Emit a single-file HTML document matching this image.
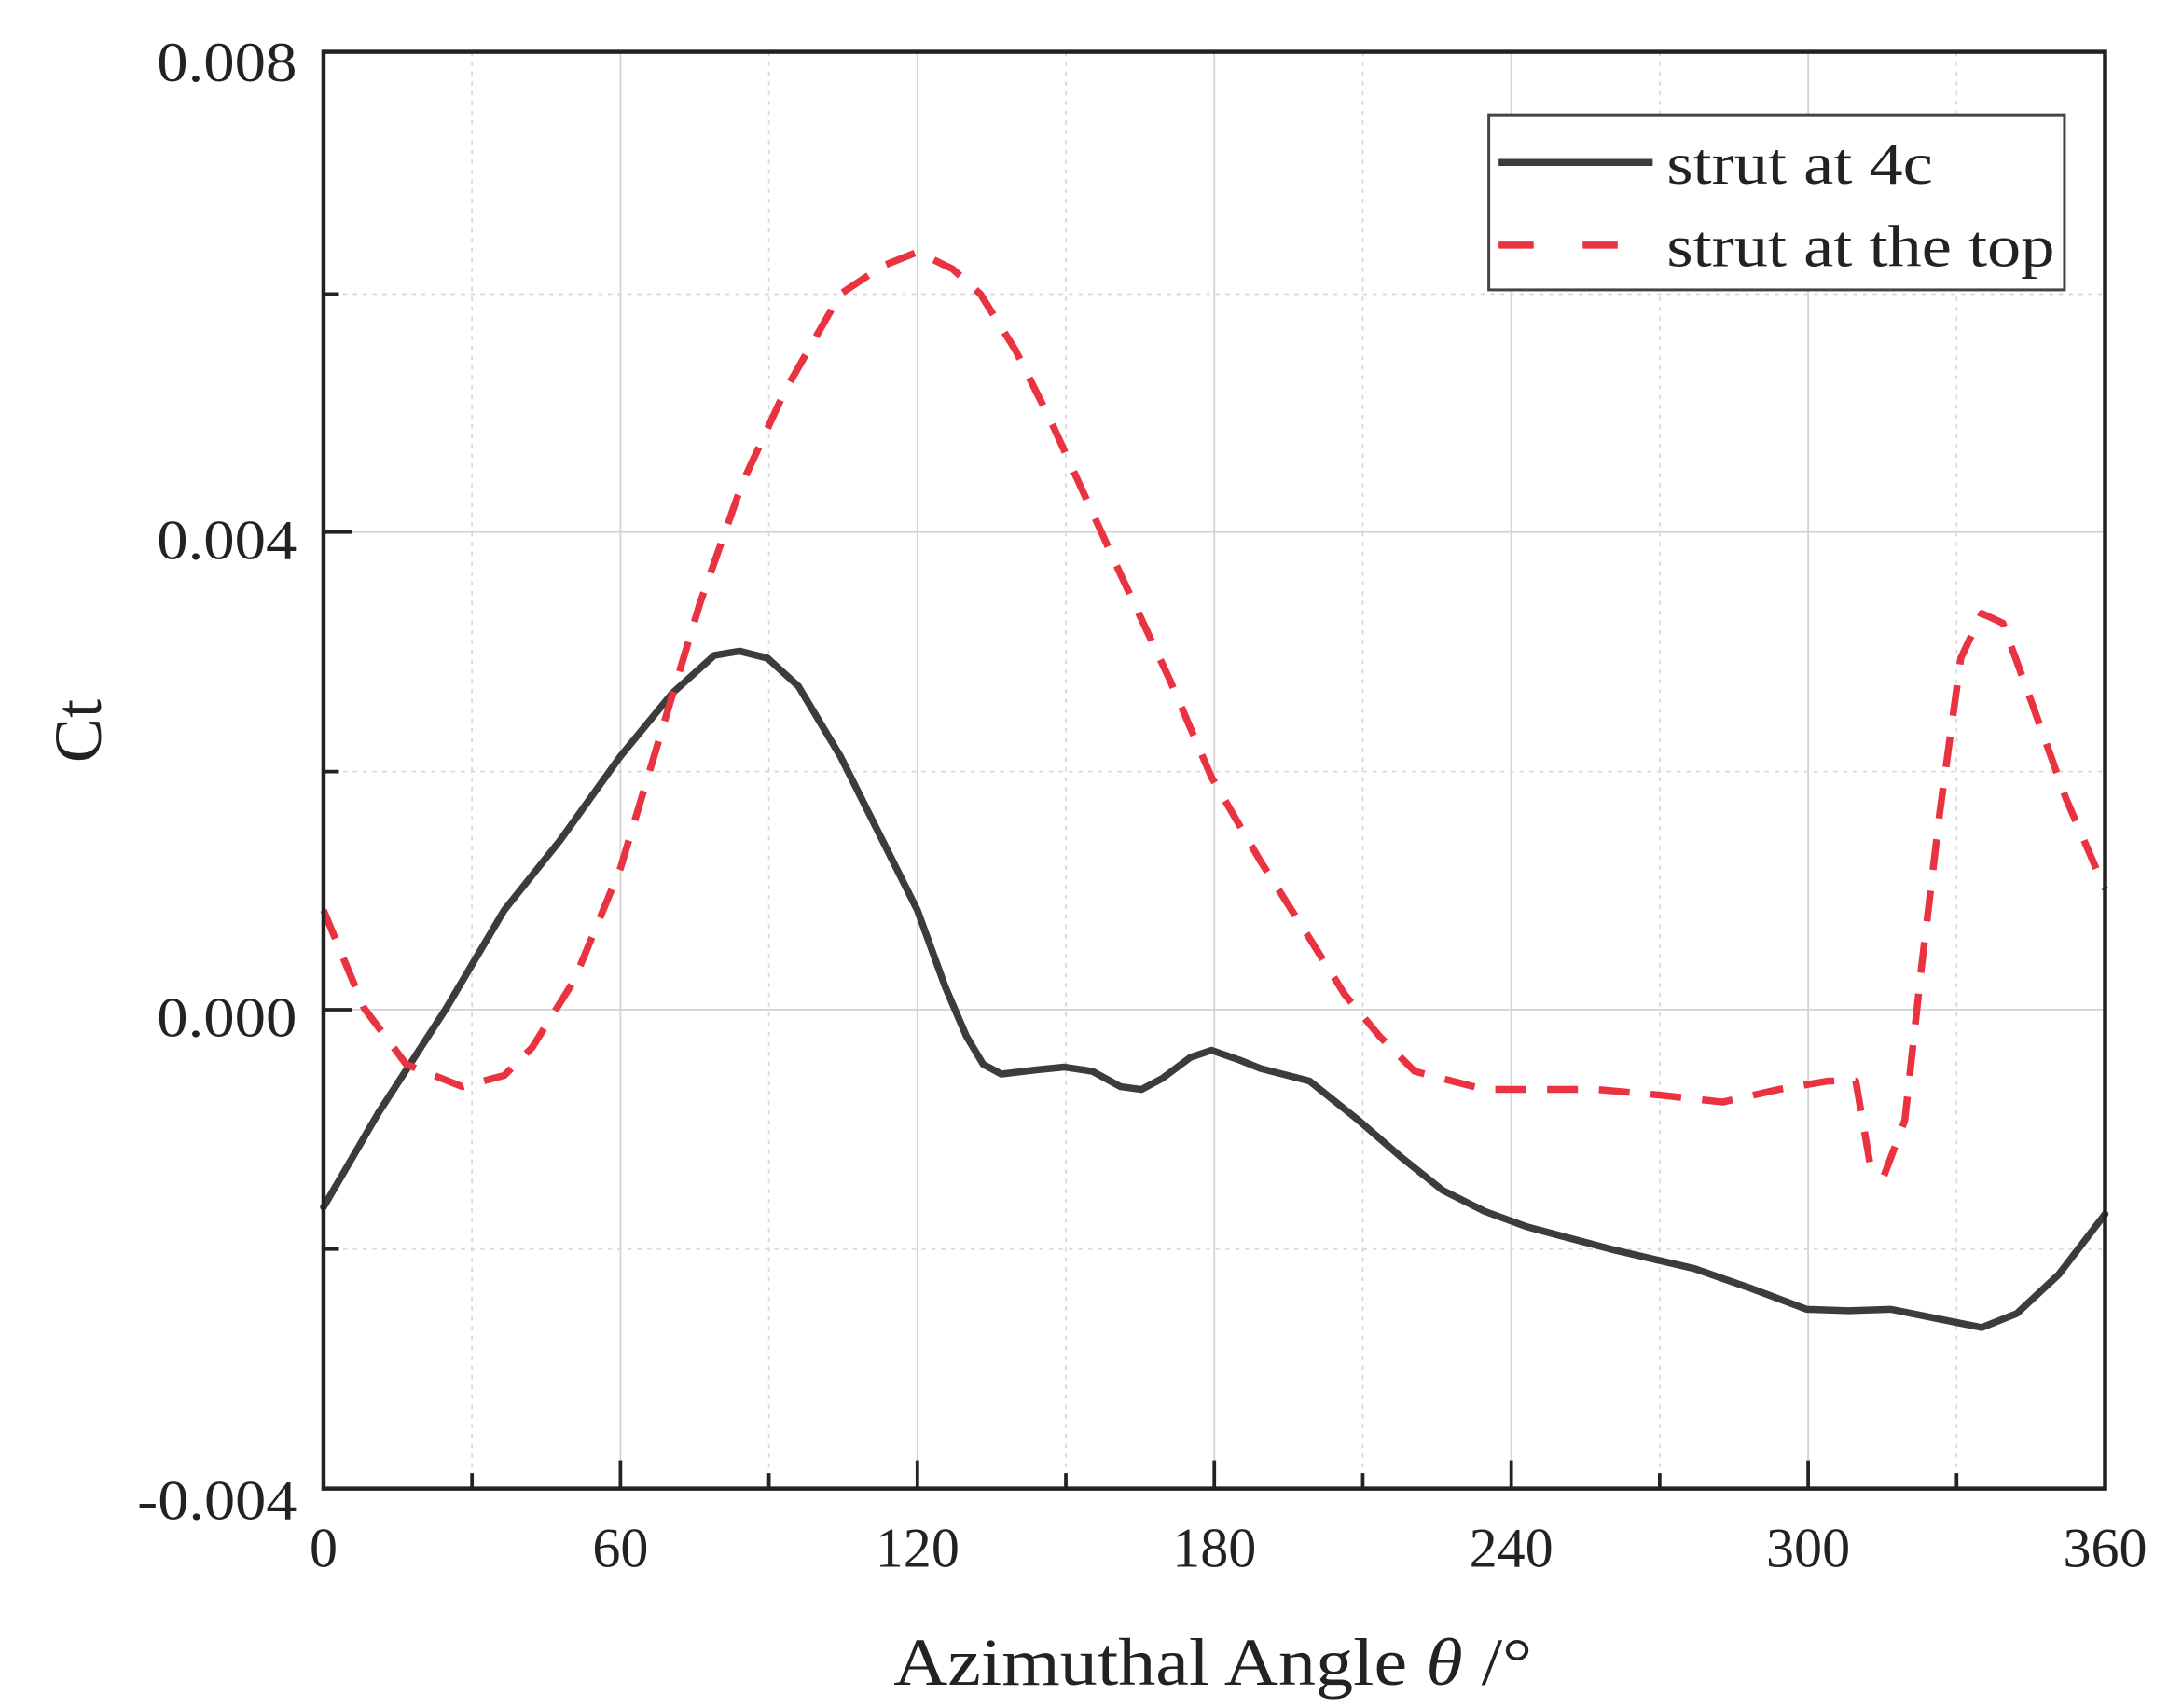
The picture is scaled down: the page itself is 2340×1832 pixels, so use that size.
<!DOCTYPE html>
<html><head><meta charset="utf-8"><style>
html,body{margin:0;padding:0;background:#fff;}
svg{display:block;}
text{font-family:"Liberation Serif","Times New Roman",serif;fill:#222;}
</style></head><body>
<svg width="2340" height="1832" viewBox="0 0 2340 1832" xmlns="http://www.w3.org/2000/svg">
<g transform="scale(1.502)" font-family="Liberation Serif, serif">
<!-- grid -->
<g stroke="#d4d4d4" stroke-width="1.2">
<line x1="443" y1="37" x2="443" y2="1063"/>
<line x1="655" y1="37" x2="655" y2="1063"/>
<line x1="867" y1="37" x2="867" y2="1063"/>
<line x1="1079" y1="37" x2="1079" y2="1063"/>
<line x1="1291" y1="37" x2="1291" y2="1063"/>
<line x1="231" y1="380" x2="1503" y2="380"/>
<line x1="231" y1="721" x2="1503" y2="721"/>
</g>
<g stroke="#d8d8d8" stroke-width="1.2" stroke-dasharray="3,4">
<line x1="337" y1="37" x2="337" y2="1063"/>
<line x1="549" y1="37" x2="549" y2="1063"/>
<line x1="761" y1="37" x2="761" y2="1063"/>
<line x1="973" y1="37" x2="973" y2="1063"/>
<line x1="1185" y1="37" x2="1185" y2="1063"/>
<line x1="1397" y1="37" x2="1397" y2="1063"/>
<line x1="231" y1="210" x2="1503" y2="210"/>
<line x1="231" y1="551" x2="1503" y2="551"/>
<line x1="231" y1="892" x2="1503" y2="892"/>
</g>
<!-- ticks -->
<g stroke="#222" stroke-width="2.5">
<line x1="443" y1="1063" x2="443" y2="1043"/><line x1="655" y1="1063" x2="655" y2="1043"/><line x1="867" y1="1063" x2="867" y2="1043"/><line x1="1079" y1="1063" x2="1079" y2="1043"/><line x1="1291" y1="1063" x2="1291" y2="1043"/>
<line x1="337" y1="1063" x2="337" y2="1052"/><line x1="549" y1="1063" x2="549" y2="1052"/><line x1="761" y1="1063" x2="761" y2="1052"/><line x1="973" y1="1063" x2="973" y2="1052"/><line x1="1185" y1="1063" x2="1185" y2="1052"/><line x1="1397" y1="1063" x2="1397" y2="1052"/>
<line x1="231" y1="380" x2="251" y2="380"/><line x1="231" y1="721" x2="251" y2="721"/>
<line x1="231" y1="210" x2="242" y2="210"/><line x1="231" y1="551" x2="242" y2="551"/><line x1="231" y1="892" x2="242" y2="892"/>
</g>
<!-- curves -->
<polyline fill="none" stroke="#3c3c3c" stroke-width="5" stroke-linejoin="round" stroke-linecap="round"
points="231,862 270,795 318,721 360,650 400,600 443,540 480,495 510,468 528,465 548,470 570,490 600,540 630,600 655,650 675,705 690,740 702,760 715,767 740,764 760,762 780,765 800,776 815,778 830,770 850,755 865,750 885,757 900,763 935,772 970,800 1000,826 1030,850 1060,865 1090,876 1150,892 1210,906 1250,920 1290,935 1320,936 1350,935 1380,941 1415,948 1440,938 1470,910 1503,867"/>
<polyline fill="none" stroke="#ea3340" stroke-width="5" stroke-dasharray="22,15" stroke-linejoin="round"
points="231,650 260,720 290,760 330,776 360,768 380,748 410,700 443,620 470,530 500,430 530,345 560,280 600,210 630,190 655,180 680,192 700,210 725,250 750,300 775,355 800,410 835,485 865,555 900,615 935,670 960,710 985,740 1010,765 1060,778 1100,778 1140,778 1185,782 1230,787 1270,778 1305,772 1325,772 1335,830 1345,840 1360,800 1372,690 1385,580 1400,470 1415,438 1430,445 1450,500 1475,570 1503,635"/>
<!-- axes frame -->
<rect x="231" y="37" width="1272" height="1026" fill="none" stroke="#222" stroke-width="3"/>
<!-- legend -->
<rect x="1063" y="82" width="411" height="125" fill="#fff" stroke="#444" stroke-width="2"/>
<line x1="1070" y1="116" x2="1180" y2="116" stroke="#3c3c3c" stroke-width="5"/>
<line x1="1070" y1="175" x2="1160" y2="175" stroke="#ea3340" stroke-width="5" stroke-dasharray="25,35"/>
<text x="1190" y="131" font-size="42" textLength="190" lengthAdjust="spacingAndGlyphs">strut at 4c</text>
<text x="1190" y="190" font-size="42" textLength="277" lengthAdjust="spacingAndGlyphs">strut at the top</text>
<!-- tick labels -->
<g font-size="40" text-anchor="end">
<text x="212" y="58" textLength="100" lengthAdjust="spacingAndGlyphs">0.008</text>
<text x="212" y="399" textLength="100" lengthAdjust="spacingAndGlyphs">0.004</text>
<text x="212" y="740" textLength="100" lengthAdjust="spacingAndGlyphs">0.000</text>
<text x="212" y="1085" textLength="114" lengthAdjust="spacingAndGlyphs">-0.004</text>
</g>
<g font-size="40" text-anchor="middle">
<text x="231" y="1119">0</text><text x="443" y="1119">60</text><text x="655" y="1119">120</text><text x="867" y="1119">180</text><text x="1079" y="1119">240</text><text x="1291" y="1119">300</text><text x="1503" y="1119">360</text>
</g>
<text x="866" y="1203" font-size="48" text-anchor="middle" textLength="456" lengthAdjust="spacingAndGlyphs">Azimuthal Angle <tspan font-style="italic">θ</tspan> /°</text>
<text transform="translate(72,522) rotate(-90)" font-size="48" text-anchor="middle">Ct</text>
</g>
</svg>
</body></html>
